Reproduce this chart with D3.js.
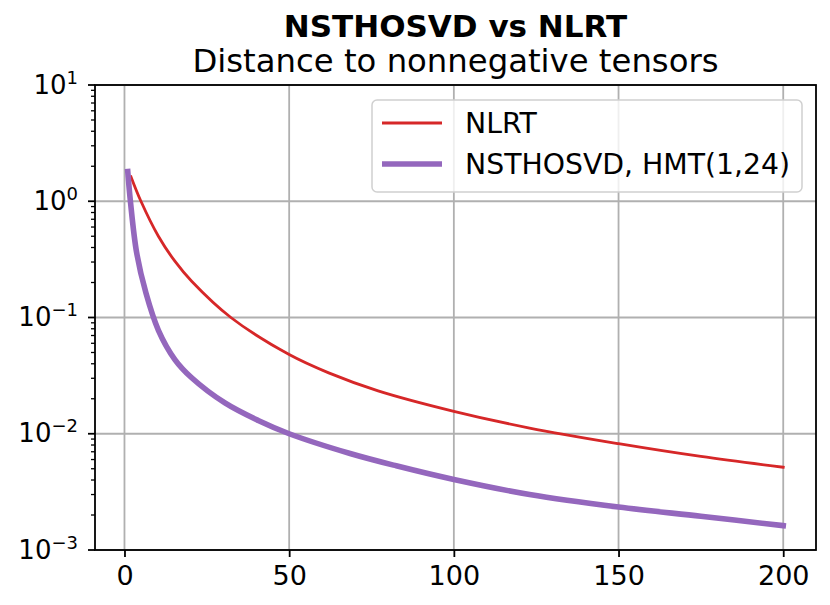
<!DOCTYPE html>
<html>
<head>
<meta charset="utf-8">
<script src="https://cdn.jsdelivr.net/npm/d3@7/dist/d3.min.js"></script>
<style>
  html, body { margin: 0; padding: 0; background: #fff; }
  svg { display: block; font-family: "DejaVu Sans", sans-serif; }
</style>
</head>
<body>
<svg id="chart" width="830" height="605"></svg>
<script>
// ---- data ----
const titleLines = ["NSTHOSVD vs NLRT", "Distance to nonnegative tensors"];
const seriesNames = ["NLRT", "NSTHOSVD, HMT(1,24)"];
const nlrtX = [2, 5.0, 10.3, 15.3, 20.4, 32.3, 50, 62, 77, 100, 123, 150, 175, 200];
const nlrtY = [1.62, 1.0, 0.50, 0.305, 0.205, 0.1, 0.048, 0.0334, 0.0234, 0.0156, 0.0112, 0.00822, 0.00638, 0.00515];
const hmtX = [1, 1.8, 3.7, 6.5, 10.3, 15.3, 20.4, 30.5, 40.6, 50, 68.5, 82.5, 100, 123, 150, 175, 200];
const hmtY = [1.8, 1.0, 0.36, 0.163, 0.0776, 0.0435, 0.0303, 0.0184, 0.013, 0.01, 0.00676, 0.0053, 0.00404, 0.0030, 0.00234, 0.00195, 0.00162];
const xTicks = [0, 50, 100, 150, 200];
const yTickExps = [-3, -2, -1, 0, 1];

// ---- layout ----
const svg = d3.select("#chart");
const L = 95, R = 816, T = 85, B = 550;
const x = d3.scaleLinear().domain([-8.95, 209.95]).range([L, R]);
const y = d3.scaleLog().domain([1e-3, 10]).range([B, T]);
const FS = 27;

// grid
const g = svg.append("g");
g.selectAll("line.gx").data(xTicks).join("line")
  .attr("x1", d => x(d)).attr("x2", d => x(d)).attr("y1", T).attr("y2", B)
  .attr("stroke", "#b0b0b0").attr("stroke-width", 1.8);
g.selectAll("line.gy").data(yTickExps).join("line")
  .attr("y1", d => y(Math.pow(10, d))).attr("y2", d => y(Math.pow(10, d))).attr("x1", L).attr("x2", R)
  .attr("stroke", "#b0b0b0").attr("stroke-width", 1.8);

// series
svg.append("clipPath").attr("id", "clip").append("rect")
  .attr("x", L).attr("y", T).attr("width", R - L).attr("height", B - T);
const line = d3.line().x(d => x(d[0])).y(d => y(d[1])).curve(d3.curveCatmullRom.alpha(0.5));
const nlrt = nlrtX.map((v, i) => [v, nlrtY[i]]);
const hmt = hmtX.map((v, i) => [v, hmtY[i]]);
const plot = svg.append("g").attr("clip-path", "url(#clip)");
plot.append("path").datum(nlrt).attr("d", line).attr("fill", "none")
  .attr("stroke", "#d62728").attr("stroke-width", 2.8).attr("stroke-linecap", "square");
plot.append("path").datum(hmt).attr("d", line).attr("fill", "none")
  .attr("stroke", "#9467bd").attr("stroke-width", 5.6).attr("stroke-linecap", "square");

// x axis
const xAxis = d3.axisBottom(x).tickValues(xTicks).tickSize(7).tickPadding(9).tickFormat(d3.format("d"));
const xg = svg.append("g").attr("transform", `translate(0,${B})`).call(xAxis);
xg.select(".domain").remove();
xg.selectAll(".tick line").attr("stroke", "#000").attr("stroke-width", 1.8);
xg.selectAll(".tick text").attr("font-size", FS).attr("font-family", "DejaVu Sans").attr("fill", "#000");

// y ticks: major + minor
const minor = [];
for (let e = -3; e < 1; e++) for (let m = 2; m <= 9; m++) minor.push(m * Math.pow(10, e));
svg.append("g").selectAll("line").data(minor).join("line")
  .attr("x1", L - 4).attr("x2", L).attr("y1", d => y(d)).attr("y2", d => y(d))
  .attr("stroke", "#000").attr("stroke-width", 1.3);
svg.append("g").selectAll("line").data(yTickExps).join("line")
  .attr("x1", L - 7).attr("x2", L).attr("y1", d => y(Math.pow(10, d))).attr("y2", d => y(Math.pow(10, d)))
  .attr("stroke", "#000").attr("stroke-width", 1.8);
const yl = svg.append("g").selectAll("text").data(yTickExps).join("text")
  .attr("x", 78).attr("y", d => y(Math.pow(10, d)) + 8.5)
  .attr("text-anchor", "end").attr("font-size", 26).attr("fill", "#000");
yl.append("tspan").text("10");
yl.append("tspan").attr("font-size", 18).attr("dy", -10).text(d => d < 0 ? "\u2212" + (-d) : String(d));

// spines
svg.append("rect").attr("x", L).attr("y", T).attr("width", R - L).attr("height", B - T)
  .attr("fill", "none").attr("stroke", "#000").attr("stroke-width", 1.8);

// title
svg.append("text").attr("x", (L + R) / 2).attr("y", 37).attr("text-anchor", "middle")
  .attr("font-size", 31).attr("font-weight", "bold").text(titleLines[0]);
svg.append("text").attr("x", (L + R) / 2).attr("y", 72).attr("text-anchor", "middle")
  .attr("font-size", 32.3).text(titleLines[1]);

// legend
const lg = svg.append("g");
lg.append("rect").attr("x", 372).attr("y", 100).attr("width", 430).attr("height", 92)
  .attr("rx", 5).attr("fill", "rgba(255,255,255,0.8)").attr("stroke", "#d0d0d0").attr("stroke-width", 1.5);
const legendItems = [
  { name: seriesNames[0], color: "#d62728", w: 2.8, yy: 123 },
  { name: seriesNames[1], color: "#9467bd", w: 5.6, yy: 164 }
];
legendItems.forEach(it => {
  lg.append("line").attr("x1", 382).attr("x2", 442).attr("y1", it.yy).attr("y2", it.yy)
    .attr("stroke", it.color).attr("stroke-width", it.w);
  lg.append("text").attr("x", 465).attr("y", it.yy + 10).attr("font-size", 28.3).text(it.name);
});
</script>
</body>
</html>
